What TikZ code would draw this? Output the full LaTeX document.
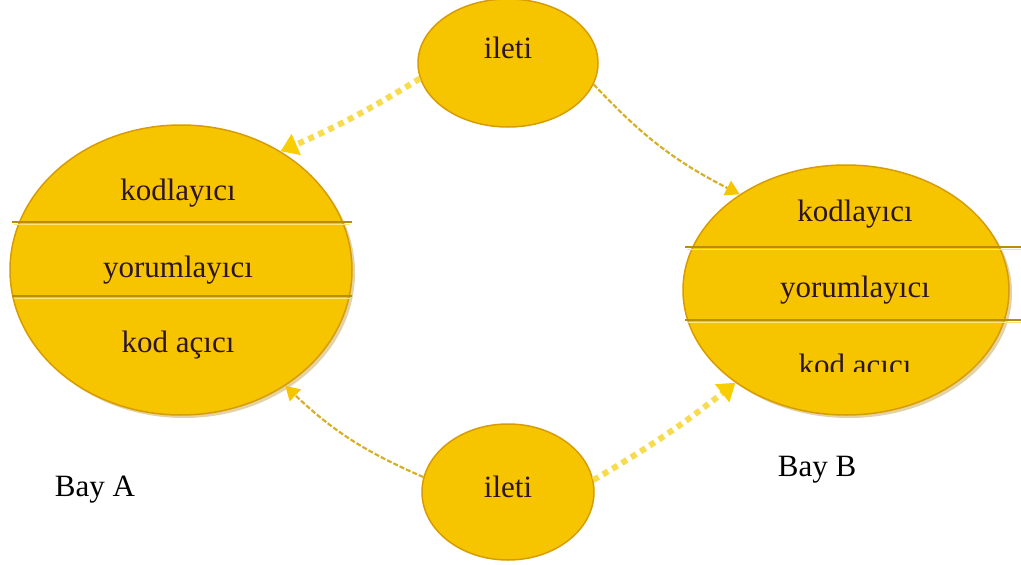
\documentclass[tikz,border=0pt]{standalone}
\usepackage{fontspec}
\setmainfont{Liberation Serif}
\usetikzlibrary{shapes.geometric,arrows.meta}
\definecolor{gold}{RGB}{247,197,0}
\definecolor{rim}{RGB}{214,156,0}
\definecolor{sepdark}{RGB}{185,140,10}
\definecolor{seplight}{RGB}{255,228,120}
\definecolor{txt}{RGB}{45,20,35}
\definecolor{arrowfill}{RGB}{248,220,80}
\definecolor{arrowedge}{RGB}{215,175,40}
\tikzset{
  blob/.style={ellipse, fill=gold, draw=rim, line width=1.5pt, inner sep=0pt},
  lbl/.style={font=\fontsize{31}{31}\selectfont, text=txt, inner sep=0pt},
  thickarrow/.style={draw=arrowfill, line width=6pt, dash pattern=on 6pt off 5pt,
     -{Triangle[length=17pt,width=22pt,fill=gold!85!yellow,color=gold!85!yellow]}},
  thinarrow/.style={draw=arrowedge, line width=2.2pt, dash pattern=on 5pt off 2pt,
     -{Triangle[length=14pt,width=16pt,fill=gold,color=gold]}},
}
\begin{document}
\begin{tikzpicture}[x=1pt,y=-1pt]
\useasboundingbox (0,0) rectangle (1021,565);
% shadows
\fill[rim!80!black, opacity=0.35] (184,273) ellipse [x radius=171, y radius=145];
\fill[rim!80!black, opacity=0.35] (849,293) ellipse [x radius=163, y radius=125];
% main ellipses
\node[blob, minimum width=342pt, minimum height=290pt] (L) at (181,270) {};
\node[blob, minimum width=326pt, minimum height=250pt] (R) at (846,290) {};
\node[blob, minimum width=180pt, minimum height=128pt] (T) at (508,63) {};
\node[blob, minimum width=172pt, minimum height=136pt] (B) at (508,492) {};
% separators
\foreach \yy in {222,296} {
  \draw[sepdark, line width=1.6pt] (12,\yy) -- (352,\yy);
  \draw[seplight, line width=1pt] (14,\yy+2) -- (350,\yy+2);
}
\foreach \yy in {247,320} {
  \draw[sepdark, line width=1.6pt] (685,\yy) -- (1021,\yy);
  \draw[seplight, line width=1pt] (687,\yy+2) -- (1021,\yy+2);
}
% labels
\node[lbl] (L1) at (178,193) {kodlayıcı};
\node[lbl] (L2) at (178,270) {yorumlayıcı};
\node[lbl] (L3) at (178,345) {kod açıcı};
\node[lbl] (R1) at (855,214) {kodlayıcı};
\node[lbl] (R2) at (855,290) {yorumlayıcı};
\begin{scope}
  \clip (690,330) rectangle (1010,371);
  \node[lbl] (R3) at (855,368) {kod açıcı};
\end{scope}
\node[lbl] (T1) at (508,48) {ileti};
\node[lbl] (B1) at (508,487) {ileti};
\node[lbl, text=black] (BA) at (95,490) {Bay A};
\node[lbl, text=black] (BB) at (817,470) {Bay B};
% connectors
\draw[thickarrow] (T.190) to[bend left=4] (L.50);
\draw[thinarrow] (T.-14) to[bend right=10] (R.138);
\draw[thinarrow] (B.170) to[bend left=10] (L.-48);
\draw[thickarrow] (B.8) to[bend right=4] (R.220);
\end{tikzpicture}
\end{document}
